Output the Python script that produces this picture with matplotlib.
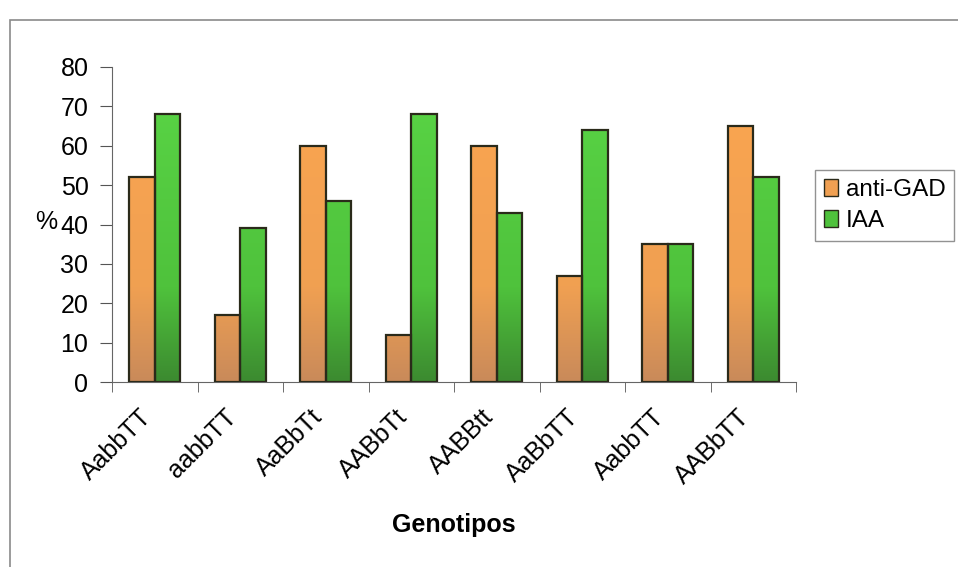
import matplotlib
matplotlib.use('Agg')
import matplotlib.pyplot as plt
import matplotlib.transforms as mtransforms
import numpy as np
from matplotlib.colors import LinearSegmentedColormap
from matplotlib.patches import Patch, Rectangle

genotipos = ['AabbTT', 'aabbTT', 'AaBbTt', 'AABbTt', 'AABBtt', 'AaBbTT', 'AabbTT', 'AABbTT']
anti_gad = [52, 17, 60, 12, 60, 27, 35, 65]
iaa = [68, 39, 46, 68, 43, 64, 35, 52]

plt.rcParams['font.family'] = ['Liberation Sans', 'DejaVu Sans']

fig = plt.figure(figsize=(9.58, 5.67), dpi=100)
ax = fig.add_axes([0.117, 0.326, 0.714, 0.556])

# gray outer frame of the chart area
fig.patches.append(Rectangle((0.010, -0.01), 1.2, 0.975, transform=fig.transFigure,
                             fill=False, edgecolor='#8a8a8a', linewidth=1.2))

x = np.arange(len(genotipos))
w = 0.3

orange_cmap = LinearSegmentedColormap.from_list('og', [(0, '#c98a5a'), (0.3, '#f0a052'), (1, '#fca650')])
green_cmap = LinearSegmentedColormap.from_list('gg', [(0, '#3c8a30'), (0.3, '#4fc23c'), (1, '#5ad646')])

def gradient_bars(xs, vals, cmap):
    bars = ax.bar(xs, vals, width=w, color='none', edgecolor='#2a2a1a', linewidth=1.6, zorder=3)
    grad = np.linspace(0, 1, 256).reshape(-1, 1)
    for b in bars:
        bx = b.get_x()
        im = ax.imshow(grad, cmap=cmap, origin='lower', aspect='auto',
                       extent=[bx, bx + b.get_width(), 0, 80], zorder=2)
        im.set_clip_path(b)
    return bars

gradient_bars(x - w / 2, anti_gad, orange_cmap)
gradient_bars(x + w / 2, iaa, green_cmap)

ax.set_xlim(-0.5, len(genotipos) - 0.5)
ax.set_ylim(0, 80)
ax.set_yticks(range(0, 81, 10))
ax.tick_params(axis='y', labelsize=18, length=9, color='#555555', pad=8)

ax.set_xticks(x)
ax.set_xticklabels(genotipos, rotation=45, ha='right', rotation_mode='anchor', fontsize=18)
ax.tick_params(axis='x', length=0, pad=14)
ax.set_xticks(np.arange(-0.5, len(genotipos)), minor=True)
ax.tick_params(axis='x', which='minor', length=7, color='#555555')

# nudge the slanted names a little to the left
shift = mtransforms.ScaledTranslation(-0.16, -0.03, fig.dpi_scale_trans)
for lbl in ax.get_xticklabels():
    lbl.set_transform(lbl.get_transform() + shift)

for s in ['top', 'right']:
    ax.spines[s].set_visible(False)
for s in ['left', 'bottom']:
    ax.spines[s].set_color('#666666')

ax.set_ylabel('%', fontsize=18, rotation=0)
ax.yaxis.set_label_coords(-0.097, 0.47)
ax.set_xlabel('Genotipos', fontsize=18, fontweight='bold', labelpad=18)

handles = [Patch(facecolor='#f0a052', edgecolor='#2a2a1a'),
           Patch(facecolor='#4fc23c', edgecolor='#2a2a1a')]
leg = fig.legend(handles, ['anti-GAD', 'IAA'], loc='upper left',
                 bbox_to_anchor=(0.851, 0.70), borderaxespad=0, fontsize=17.5,
                 frameon=True, fancybox=False, edgecolor='#777777', handlelength=0.6,
                 handleheight=0.7, handletextpad=0.3, borderpad=0.35, labelspacing=0.4)

fig.savefig('out.png', dpi=100)
